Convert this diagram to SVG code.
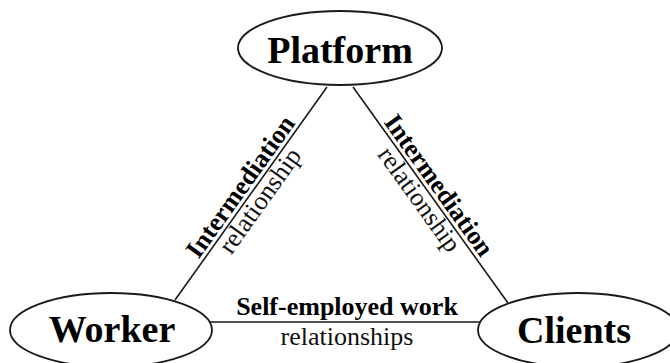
<svg xmlns="http://www.w3.org/2000/svg" width="670" height="363" viewBox="0 0 670 363">
<style>
.edge{stroke:#1a1a1a;stroke-width:1.6;fill:none}
.node{fill:#fff;stroke:#1a1a1a;stroke-width:1.8}
text{font-family:'Liberation Serif','Times New Roman',Tinos,'DejaVu Serif',serif;text-anchor:middle}
.title{font-weight:bold;font-size:38px;fill:#000}
.lb{font-weight:bold;font-size:26px;fill:#000}
.lr{font-size:26px;fill:#111}
</style>
<rect width="670" height="363" fill="#fff"/>
<g id="connectors">
<line class="edge" x1="175" y1="300" x2="327" y2="87"/>
<line class="edge" x1="353" y1="87" x2="508" y2="303"/>
<line class="edge" x1="210" y1="322" x2="480" y2="322"/>
<g transform="translate(250.5,194) rotate(-54.5)">
<text class="lb" x="0" y="-4">Intermediation</text>
<text class="lr" x="0" y="20">relationship</text>
</g>
<g transform="translate(428.8,192.6) rotate(54.3)">
<text class="lb" x="0" y="-4">Intermediation</text>
<text class="lr" x="0" y="20">relationship</text>
</g>
<text class="lb" x="347" y="315">Self-employed work</text>
<text class="lr" x="347" y="345">relationships</text>
</g>
<g id="platform">
<ellipse class="node" cx="340" cy="48" rx="102" ry="37"/>
<text class="title" x="340" y="63">Platform</text>
</g>
<g id="worker">
<ellipse class="node" cx="111" cy="330" rx="101" ry="37"/>
<text class="title" x="112" y="342">Worker</text>
</g>
<g id="clients">
<ellipse class="node" cx="578" cy="330" rx="100" ry="37"/>
<text class="title" x="574" y="343">Clients</text>
</g>
</svg>
